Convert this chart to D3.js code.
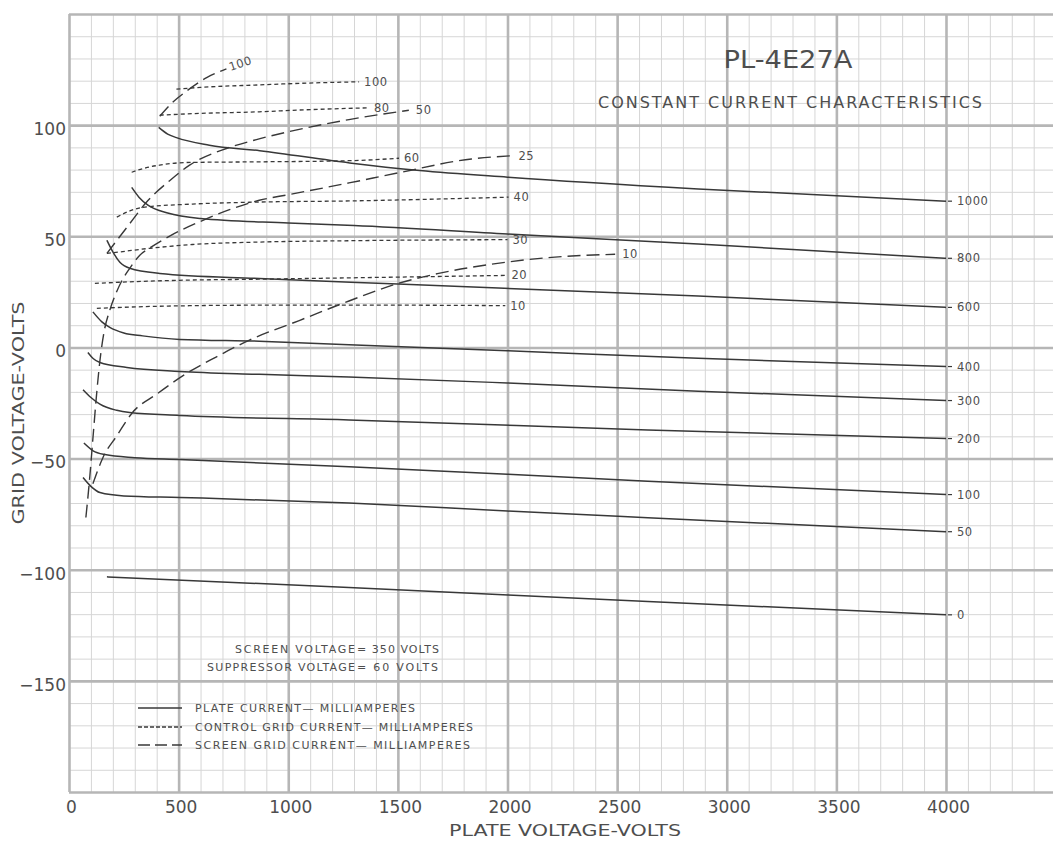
<!DOCTYPE html>
<html>
<head>
<meta charset="utf-8">
<script src="https://cdn.jsdelivr.net/npm/d3@7"></script>
<style>
    body { margin: 0; background: #fff; }
    svg text { font-family: 'DejaVu Sans', sans-serif; fill: #4e4e4e; }
</style>
</head>
<body>
<svg id="chart" width="1053" height="842"></svg>
<script>
// tick values
const xTicks = [0, 500, 1000, 1500, 2000, 2500, 3000, 3500, 4000];
const yTicks = [100, 50, 0, -50, -100, -150];

// plate current curves (mA) - [plate volts, grid volts]
const plate1000 = [[409,99],[450,96],[490,94.4],[640,91],[870,88.5],[1280,83],[1600,79.6],[2000,76.6],[2870,71.3],[4000,65.8]];
const plate800 = [[286,72],[320,67.5],[360,64],[450,60.5],[600,58],[1000,56],[1300,54.8],[2000,51],[2870,46.5],[4000,40.1]];
const plate600 = [[173,48.2],[200,43],[232,38.3],[277,35.6],[414,33.3],[868,31],[1500,28.5],[2870,23.1],[4000,18]];
const plate400 = [[109,16],[150,11.5],[186,9],[250,6.5],[336,5.2],[505,3.6],[868,2.8],[1277,1.2],[2000,-1.5],[2870,-4.9],[4000,-8.6]];
const plate300 = [[86,-2.3],[110,-5],[141,-6.8],[264,-9],[505,-10.8],[868,-12.1],[1277,-13.3],[2000,-16],[2870,-19.7],[4000,-23.9]];
const plate200 = [[64,-19],[100,-22.5],[141,-25.5],[218,-28.3],[277,-29.3],[505,-30.6],[1277,-32.6],[2640,-37.1],[4000,-41]];
const plate100 = [[68,-43],[110,-46.5],[164,-48.2],[300,-49.6],[505,-50.4],[1277,-53.7],[2000,-57],[2640,-60.2],[4000,-66.2]];
const plate50 = [[64,-58.5],[100,-62.5],[141,-65.3],[250,-66.8],[505,-67.5],[1277,-70],[2000,-73.6],[2640,-76.6],[4000,-82.9]];
const plate0 = [[173,-103.2],[1277,-108],[2640,-114.3],[4000,-120.3]];

// control grid current curves (mA)
const cg100 = [[490,116.2],[600,117],[868,118.1],[1050,118.8],[1323,119.5]];
const cg80 = [[414,104.5],[600,105.3],[868,106],[1050,106.8],[1368,107.8]];
const cg60 = [[286,78.8],[350,80.8],[413,82],[536,83.2],[868,83.5],[1277,84],[1505,85.1]];
const cg40 = [[218,58.6],[280,61.5],[336,63],[563,64.5],[868,65.4],[1277,65.9],[2005,67.6]];
const cg30 = [[173,42.3],[200,42.6],[368,44.6],[563,46.3],[868,47.4],[1277,48],[2000,48.5]];
const cg20 = [[118,28.8],[300,29.6],[504,30.2],[868,30.7],[1277,31.3],[1995,32.4]];
const cg10 = [[127,17.6],[400,18.5],[868,19],[1500,19],[1990,18.8]];

// screen grid current curves (mA)
const sg100 = [[414,104],[470,110],[536,115.3],[630,121.5],[718,125.3]];
const sg50 = [[173,42.3],[264,54],[359,66],[459,75],[550,82],[718,89.5],[855,93.5],[1000,97],[1277,102.5],[1550,106.7]];
const sg25 = [[77,-76.5],[95,-58],[109,-41],[125,-22],[141,-6],[160,7],[186,16.7],[215,24.5],[241,30],[277,35.6],[323,41.5],[368,44.7],[459,50.1],[595,56.5],[732,62],[868,66.2],[1005,68.8],[1277,74],[1505,78.6],[1836,84.8],[2018,86.2]];
const sg10 = [[109,-61.3],[155,-49.5],[220,-39.5],[286,-29.7],[400,-21],[536,-11.7],[673,-4.2],[823,3.3],[1050,12.1],[1277,20.9],[1505,28.9],[1686,33.3],[1991,38.3],[2186,40.4],[2491,41.9]];

const plateCurves = [
    { label: '1000', pts: plate1000 }, { label: '800', pts: plate800 }, { label: '600', pts: plate600 },
    { label: '400', pts: plate400 }, { label: '300', pts: plate300 }, { label: '200', pts: plate200 },
    { label: '100', pts: plate100 }, { label: '50', pts: plate50 }, { label: '0', pts: plate0 }
];
const cgCurves = [
    { label: '100', pts: cg100 }, { label: '80', pts: cg80 }, { label: '60', pts: cg60 },
    { label: '40', pts: cg40 }, { label: '30', pts: cg30 }, { label: '20', pts: cg20 }, { label: '10', pts: cg10 }
];
const sgCurves = [
    { label: '50', pts: sg50 }, { label: '25', pts: sg25 }, { label: '10', pts: sg10 }
];

const svg = d3.select('#chart');
const x = d3.scaleLinear().domain([0, 4000]).range([69, 946]);
const y = d3.scaleLinear().domain([-200, 150]).range([792, 14]);
const plotH = y(-200) - y(150);

// graph paper grid
function gridX(values, cls) {
    svg.append('g').attr('class', cls)
        .attr('transform', `translate(0,${y(-200)})`)
        .call(d3.axisBottom(x).tickValues(values).tickSize(-plotH).tickFormat(''))
        .call(g => g.select('.domain').remove());
}
function gridY(values, cls) {
    svg.append('g').attr('class', cls)
        .attr('transform', `translate(${x(0)},0)`)
        .call(d3.axisLeft(y).tickValues(values).tickSize(-(1060 - x(0))).tickFormat(''))
        .call(g => g.select('.domain').remove());
}
gridX(d3.range(0, 4600, 100).filter(v => v % 500 !== 0), 'minor');
gridY(d3.range(-200, 151, 10).filter(v => v % 50 !== 0), 'minor');
gridX(d3.range(0, 4600, 500), 'major');
gridY(d3.range(-200, 151, 50), 'major');
svg.selectAll('.minor line').attr('stroke', '#d6d6d6').attr('stroke-width', 1);
svg.selectAll('.major line').attr('stroke', '#b6b6b6').attr('stroke-width', 2.6);

// axis labels
const fmt = d => d < 0 ? '\u2212' + Math.abs(d) : String(d);
svg.append('g')
    .attr('transform', `translate(${x(0)},0)`)
    .call(d3.axisLeft(y).tickValues(yTicks).tickSize(0).tickPadding(3).tickFormat(fmt))
    .call(g => g.select('.domain').remove())
    .selectAll('text')
    .attr('dy', '0.55em')
    .style('font-size', '17px')
    .style('font-family', "'DejaVu Sans', sans-serif")
    .attr('fill', '#4e4e4e');

svg.append('g')
    .attr('transform', `translate(0,${y(-200)})`)
    .call(d3.axisBottom(x).tickValues(xTicks).tickSize(0).tickPadding(9).tickFormat(fmt))
    .call(g => g.select('.domain').remove())
    .selectAll('text')
    .attr('dx', 2)
    .style('font-size', '17px')
    .style('font-family', "'DejaVu Sans', sans-serif")
    .attr('fill', '#4e4e4e');

svg.append('text')
    .attr('x', 565).attr('y', 836)
    .attr('text-anchor', 'middle')
    .attr('textLength', 232).attr('lengthAdjust', 'spacingAndGlyphs')
    .style('font-size', '16px')
    .text('PLATE VOLTAGE-VOLTS');

svg.append('text')
    .attr('transform', 'translate(24,413) rotate(-90)')
    .attr('text-anchor', 'middle')
    .attr('textLength', 223).attr('lengthAdjust', 'spacingAndGlyphs')
    .style('font-size', '16px')
    .text('GRID VOLTAGE-VOLTS');

// titles
svg.append('text')
    .attr('x', 788).attr('y', 68)
    .attr('text-anchor', 'middle')
    .attr('textLength', 129).attr('lengthAdjust', 'spacingAndGlyphs')
    .style('font-size', '25px')
    .text('PL-4E27A');
svg.append('text')
    .attr('x', 790).attr('y', 108)
    .attr('text-anchor', 'middle')
    .attr('textLength', 384).attr('lengthAdjust', 'spacing')
    .style('font-size', '16px')
    .text('CONSTANT CURRENT CHARACTERISTICS');

// curves
const line = d3.line()
    .x(d => x(d[0]))
    .y(d => y(d[1]))
    .curve(d3.curveMonotoneX);

const curveColor = '#383838';

svg.append('g').selectAll('path')
    .data(plateCurves)
    .enter()
    .append('path')
    .attr('d', d => line(d.pts))
    .attr('fill', 'none')
    .attr('stroke', curveColor)
    .attr('stroke-width', 1.5);

svg.append('g').selectAll('path')
    .data(cgCurves)
    .enter()
    .append('path')
    .attr('d', d => line(d.pts))
    .attr('fill', 'none')
    .attr('stroke', curveColor)
    .attr('stroke-width', 1.3)
    .attr('stroke-dasharray', '4,3');

svg.append('g').selectAll('path')
    .data(sgCurves.concat([{ label: '100', pts: sg100 }]))
    .enter()
    .append('path')
    .attr('d', d => line(d.pts))
    .attr('fill', 'none')
    .attr('stroke', curveColor)
    .attr('stroke-width', 1.4)
    .attr('stroke-dasharray', '13,6');

// curve labels
function endLabels(curves, dx) {
    svg.append('g').selectAll('text')
        .data(curves)
        .enter()
        .append('text')
        .attr('x', d => x(d.pts[d.pts.length - 1][0]) + dx)
        .attr('y', d => y(d.pts[d.pts.length - 1][1]))
        .attr('dy', '0.35em')
        .style('font-size', '11.5px')
        .style('letter-spacing', '0.5px')
        .text(d => d.label);
}
endLabels(plateCurves, 11);
endLabels(cgCurves, 5);
endLabels(sgCurves, 7);

// little ticks between plate curve ends and their labels
svg.append('g').selectAll('line')
    .data(plateCurves)
    .enter()
    .append('line')
    .attr('x1', d => x(4000) + 2).attr('x2', d => x(4000) + 6)
    .attr('y1', d => y(d.pts[d.pts.length - 1][1]))
    .attr('y2', d => y(d.pts[d.pts.length - 1][1]))
    .attr('stroke', curveColor).attr('stroke-width', 1.2);

const sgEnd = sg100[sg100.length - 1];
svg.append('text')
    .attr('transform', `translate(${x(sgEnd[0]) + 4},${y(sgEnd[1]) + 2}) rotate(-18)`)
    .style('font-size', '11.5px')
    .style('letter-spacing', '0.5px')
    .text('100');

// notes
const notes = svg.append('g').style('font-size', '11px');
notes.append('text').attr('x', 355).attr('y', 653).attr('text-anchor', 'end')
    .attr('textLength', 120).attr('lengthAdjust', 'spacing').text('SCREEN VOLTAGE');
notes.append('text').attr('x', 357).attr('y', 653)
    .attr('textLength', 82).attr('lengthAdjust', 'spacing').text('= 350 VOLTS');
notes.append('text').attr('x', 355).attr('y', 671).attr('text-anchor', 'end')
    .attr('textLength', 148).attr('lengthAdjust', 'spacing').text('SUPPRESSOR VOLTAGE');
notes.append('text').attr('x', 357).attr('y', 671)
    .attr('textLength', 81).attr('lengthAdjust', 'spacing').text('=  60 VOLTS');

// legend
const legendRows = [
    { text: 'PLATE CURRENT\u2014 MILLIAMPERES', dash: null, w: 220, yy: 708 },
    { text: 'CONTROL GRID CURRENT\u2014 MILLIAMPERES', dash: '4,2', w: 278, yy: 727 },
    { text: 'SCREEN GRID CURRENT\u2014 MILLIAMPERES', dash: '12,5', w: 275, yy: 745 }
];
const legend = svg.append('g');
legendRows.forEach(row => {
    legend.append('line')
        .attr('x1', 138).attr('x2', 182)
        .attr('y1', row.yy).attr('y2', row.yy)
        .attr('stroke', curveColor).attr('stroke-width', 1.3)
        .attr('stroke-dasharray', row.dash);
    legend.append('text')
        .attr('x', 195).attr('y', row.yy).attr('dy', '0.36em')
        .attr('textLength', row.w).attr('lengthAdjust', 'spacing')
        .style('font-size', '11px')
        .text(row.text);
});
</script>
</body>
</html>
